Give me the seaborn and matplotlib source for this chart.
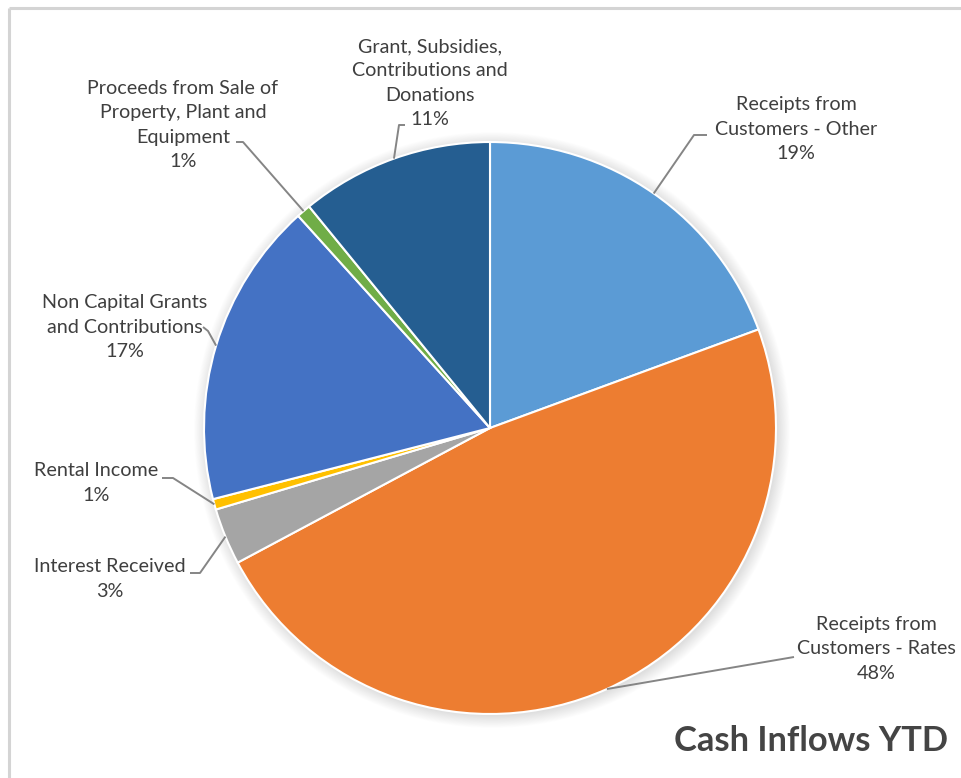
import numpy as np
import matplotlib
matplotlib.use("Agg")
import matplotlib.pyplot as plt
from matplotlib.patches import Circle
import seaborn as sns

# Cash inflow categories, clockwise from 12 o'clock
categories = [
    "Receipts from\nCustomers - Other",
    "Receipts from\nCustomers - Rates",
    "Interest Received",
    "Rental Income",
    "Non Capital Grants\nand Contributions",
    "Proceeds from Sale of\nProperty, Plant and\nEquipment",
    "Grant, Subsidies,\nContributions and\nDonations",
]
shares = [19.4, 47.8, 3.2, 0.6, 17.3, 0.8, 10.9]
colors = ["#5B9BD5", "#ED7D31", "#A5A5A5", "#FFC000", "#4472C4", "#70AD47", "#255E91"]

title = "Cash Inflows YTD"

W, H = 961, 778
CX, CY, R = 490, 428, 286  # pie centre / radius in pixels from top-left

# label text centre (x, y) and leader start/elbow points, pixels from top-left
label_xy = [(796, 129), (876, 649), (110, 579), (96, 483), (125, 327), (183, 125), (430, 83)]
leader_pts = [
    [(707, 135), (694, 135)],
    [(794, 657)],
    [(190, 573), (200, 573)],
    [(162, 478), (173, 478)],
    [(203, 327), (208, 331)],
    [(236, 142), (243, 142)],
    [(405, 125), (399, 125)],
]

sns.set_theme(style="white")
plt.rcParams["font.family"] = ["Lato", "DejaVu Sans"]

fig = plt.figure(figsize=(W / 100, H / 100), dpi=100)
ax = fig.add_axes([0, 0, 1, 1])

def fy(y):
    return H - y

# soft drop shadow around the pie
for i in range(16):
    ax.add_patch(Circle((CX + 2, fy(CY) - 2), R + i * 0.8, color="black",
                        alpha=0.007, lw=0, zorder=1))

wedges, _ = ax.pie(
    shares, colors=colors, startangle=90, counterclock=False,
    center=(CX, fy(CY)), radius=R, frame=True,
    wedgeprops=dict(edgecolor="white", linewidth=1.5),
)
for w in wedges:
    w.set_zorder(2)
ax.set_xlim(0, W)
ax.set_ylim(0, H)
ax.set_aspect("equal")
ax.axis("off")

text_color = "#3F3F3F"
line_color = "#858585"
for w, cat, val, (lx, ly), pts in zip(wedges, categories, shares, label_xy, leader_pts):
    ax.text(lx, fy(ly), f"{cat}\n{round(val):d}%", ha="center", va="center",
            fontsize=14.2, color=text_color, linespacing=1.52, zorder=4)
    mid = np.deg2rad((w.theta1 + w.theta2) / 2)
    ex, ey = CX + R * np.cos(mid), fy(CY) + R * np.sin(mid)
    xs = [p[0] for p in pts] + [ex]
    ys = [fy(p[1]) for p in pts] + [ey]
    ax.plot(xs, ys, color=line_color, lw=1.4, zorder=3, solid_capstyle="butt")

ax.text(948, fy(741), title, ha="right", va="center", fontsize=24.8,
        fontweight="bold", color="#444444", zorder=4)

# chart frame (top and left edges)
ax.plot([9, W], [fy(8), fy(8)], color="#D4D4D4", lw=2.2, zorder=5, solid_capstyle="butt")
ax.plot([9, 9], [fy(8), 0], color="#D4D4D4", lw=2.2, zorder=5, solid_capstyle="butt")

fig.savefig("out.png", dpi=100, facecolor="white")
